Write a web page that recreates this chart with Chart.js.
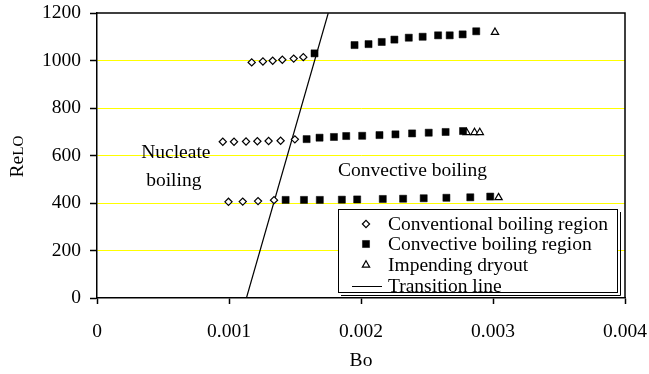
<!DOCTYPE html>
<html>
<head>
<meta charset="utf-8">
<script src="https://cdn.jsdelivr.net/npm/chart.js@4/dist/chart.umd.min.js"></script>
<style>
html,body{margin:0;padding:0;background:#fff;}
canvas{display:block;}
</style>
</head>
<body>
<canvas id="c" width="649" height="374"></canvas>
<script>
// ---- data ----
const conventionalBo = [0.001172,0.001257,0.001331,0.001404,0.00149,0.001563,
                        0.000953,0.001038,0.001129,0.001215,0.0013,0.001391,0.001499,
                        0.000996,0.001104,0.00122,0.001341];
const conventionalRe = [992,996,999,1003,1008,1014,
                        658,658,659,660,661,662,668,
                        405,406,408,412];
const convectiveBo = [0.001648,0.001951,0.002057,0.002157,0.002253,0.002362,0.002467,0.002584,0.002672,0.00277,0.002873,
                      0.001588,0.001686,0.001795,0.001888,0.002009,0.00214,0.002261,0.002387,0.002513,0.002641,0.002773,
                      0.001429,0.001568,0.001688,0.001855,0.001971,0.002165,0.002319,0.002475,0.002647,0.002828,0.002979];
const convectiveRe = [1030,1065,1069,1078,1088,1096,1100,1106,1106,1110,1123,
                      669,675,678,682,683,686,689,693,696,699,703,
                      413,413,413,414,415,417,418,420,422,424,427];
const dryoutBo = [0.003015,0.0028,0.00286,0.0029,0.003042];
const dryoutRe = [1119,697,697,697,423];
const transitionBo = [0.001132,0.001752];
const transitionRe = [0,1200];
const xTickLabels = ['0','0.001','0.002','0.003','0.004'];
const yTickLabels = ['0','200','400','600','800','1000','1200'];
const seriesLabels = ['Conventional boiling region','Convective boiling region','Impending dryout','Transition line'];
const regionLabels = [
  {text:'Nucleate', x:0.000597, y:610},
  {text:'boiling', x:0.000582, y:493},
  {text:'Convective boiling', x:0.00239, y:535}
];

const zip = (xs, ys) => xs.map((x,i)=>({x:x, y:ys[i]}));
const FONT = '"Liberation Serif", "Times New Roman", serif';
const FS = 19.5;

const extras = {
  id:'extras',
  afterDatasetsDraw(chart){
    const ctx = chart.ctx, a = chart.chartArea;
    const xs = chart.scales.x, ys = chart.scales.y;
    ctx.save();
    // top and right frame
    ctx.strokeStyle = '#000'; ctx.lineWidth = 1.5;
    ctx.beginPath();
    ctx.moveTo(a.left, a.top); ctx.lineTo(a.right, a.top); ctx.lineTo(a.right, a.bottom);
    ctx.stroke();
    // region labels
    ctx.fillStyle = '#000';
    ctx.font = FS + 'px ' + FONT;
    ctx.textAlign = 'center'; ctx.textBaseline = 'middle';
    regionLabels.forEach(l => ctx.fillText(l.text, xs.getPixelForValue(l.x), ys.getPixelForValue(l.y)));
    // legend box
    const L = a.left + 241, T = a.top + 196, R = a.left + 520, B = a.top + 279;
    ctx.fillStyle = '#fff';
    ctx.fillRect(L, T, R - L, B - T);
    ctx.lineWidth = 1; ctx.strokeStyle = '#000';
    ctx.strokeRect(L + 0.5, T + 0.5, R - L, B - T);
    ctx.beginPath();
    ctx.moveTo(R + 3.5, T + 3); ctx.lineTo(R + 3.5, B + 3.5); ctx.lineTo(L + 3, B + 3.5);
    ctx.stroke();
    const rowY = [T + 15, T + 35, T + 56, T + 77];
    const mx = L + 28, tx = L + 50;
    chart.data.datasets.forEach((ds, i) => {
      const y = rowY[i];
      if (i === 3) {
        ctx.strokeStyle = '#000'; ctx.lineWidth = 1;
        ctx.beginPath(); ctx.moveTo(L + 14, y + 0.5); ctx.lineTo(L + 44, y + 0.5); ctx.stroke();
      } else {
        ctx.fillStyle = ds.backgroundColor; ctx.strokeStyle = ds.borderColor; ctx.lineWidth = ds.borderWidth;
        Chart.helpers.drawPoint(ctx, {pointStyle: ds.pointStyle, radius: ds.pointRadius, borderWidth: ds.borderWidth, rotation: 0}, mx, y);
      }
      ctx.fillStyle = '#000';
      ctx.font = FS + 'px ' + FONT;
      ctx.textAlign = 'left'; ctx.textBaseline = 'middle';
      ctx.fillText(ds.label, tx, y + 1);
    });
    ctx.restore();
  },
  afterDraw(chart){
    // y-axis title "Re" with small "LO"
    const ctx = chart.ctx, a = chart.chartArea;
    ctx.save();
    ctx.translate(16, (a.top + a.bottom) / 2 + 1);
    ctx.rotate(-Math.PI / 2);
    ctx.fillStyle = '#000';
    ctx.textBaseline = 'alphabetic'; ctx.textAlign = 'left';
    ctx.font = FS + 'px ' + FONT;
    const w1 = ctx.measureText('Re').width;
    ctx.font = (FS * 0.78) + 'px ' + FONT;
    const w2 = ctx.measureText('LO').width;
    const start = -(w1 + w2) / 2;
    ctx.font = FS + 'px ' + FONT;
    ctx.fillText('Re', start, 7);
    ctx.font = (FS * 0.78) + 'px ' + FONT;
    ctx.fillText('LO', start + w1, 7);
    ctx.restore();
  }
};

new Chart(document.getElementById('c'), {
  type: 'scatter',
  data: {
    datasets: [
      {label: seriesLabels[0], data: zip(conventionalBo, conventionalRe), pointStyle: 'rectRot', pointRadius: 3.6,
       backgroundColor: '#fff', borderColor: '#000', borderWidth: 1.2},
      {label: seriesLabels[1], data: zip(convectiveBo, convectiveRe), pointStyle: 'rect', pointRadius: 5,
       backgroundColor: '#000', borderColor: '#000', borderWidth: 0.5},
      {label: seriesLabels[2], data: zip(dryoutBo, dryoutRe), pointStyle: 'triangle', pointRadius: 4.2,
       backgroundColor: '#fff', borderColor: '#000', borderWidth: 1.2},
      {label: seriesLabels[3], type: 'line', data: zip(transitionBo, transitionRe), showLine: true, pointRadius: 0,
       borderColor: '#000', borderWidth: 1.2, backgroundColor: '#000', fill: false}
    ]
  },
  options: {
    responsive: false,
    animation: false,
    layout: {padding: {top: 13, right: 24, left: 0, bottom: 0}},
    plugins: {legend: {display: false}, tooltip: {enabled: false}},
    scales: {
      x: {
        type: 'linear', min: 0, max: 0.004,
        afterFit: s => { s.height = 76; s.paddingLeft = 0; s.paddingRight = 0; },
        afterBuildTicks: s => { s.ticks = xTickLabels.map(v => ({value: parseFloat(v)})); },
        ticks: {callback: (v, i) => xTickLabels[i], color: '#000', font: {family: FONT, size: FS}, padding: 16, maxRotation: 0, autoSkip: false},
        grid: {drawOnChartArea: false, drawTicks: true, tickLength: 6, tickColor: '#000', tickWidth: 1.5},
        border: {color: '#000', width: 1.5},
        title: {display: true, text: 'Bo', color: '#000', font: {family: FONT, size: FS}, padding: {top: 0, bottom: 1}}
      },
      y: {
        min: 0, max: 1200,
        afterFit: s => { s.width = 97; s.paddingTop = 0; s.paddingBottom = 0; },
        afterBuildTicks: s => { s.ticks = yTickLabels.map(v => ({value: parseFloat(v)})); },
        ticks: {callback: (v, i) => yTickLabels[i], color: '#000', font: {family: FONT, size: FS}, padding: 9},
        grid: {
          color: c => (c.tick && (c.tick.value === 0 || c.tick.value === 1200)) ? 'rgba(0,0,0,0)' : '#ffff00',
          lineWidth: 1, drawTicks: true, tickLength: 7, tickColor: '#000', tickWidth: 1.5
        },
        border: {color: '#000', width: 1.5}
      }
    }
  },
  plugins: [extras]
});
</script>
</body>
</html>
